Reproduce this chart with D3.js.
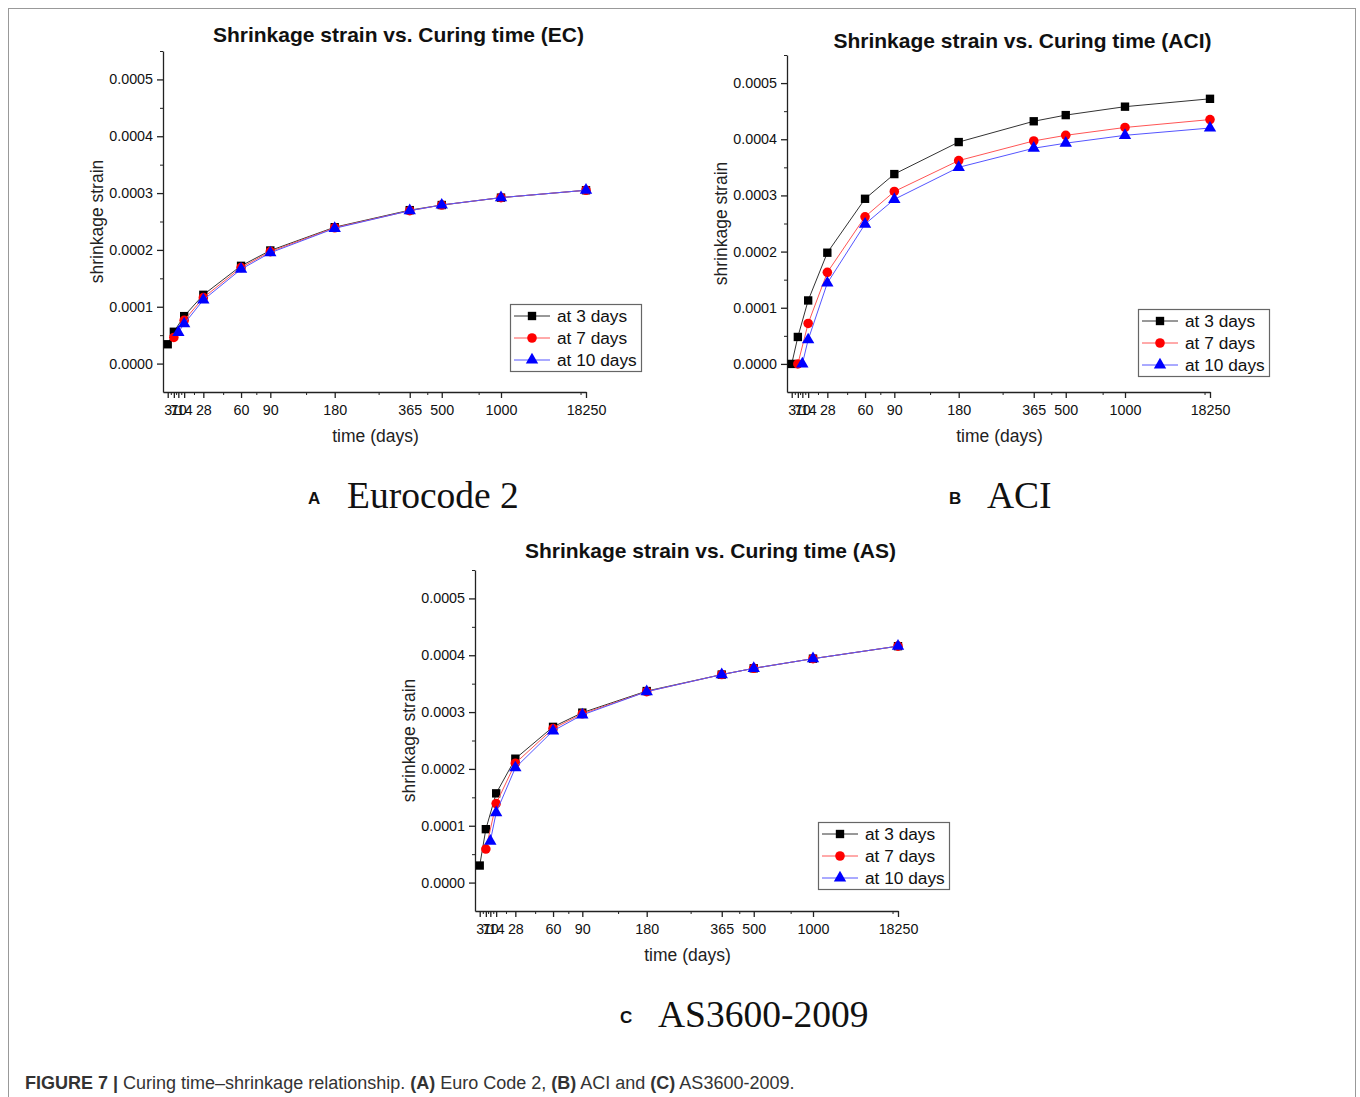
<!DOCTYPE html>
<html>
<head>
<meta charset="utf-8">
<script src="https://cdn.jsdelivr.net/npm/d3@7"></script>
<style>
  body { margin: 0; background: #fff; }
  svg { display: block; }
</style>
</head>
<body>
<script>
// x values (days) used on every panel
var dayTicks = [3, 7, 10, 14, 28, 60, 90, 180, 365, 500, 1000, 18250];
var days3 = [3, 7, 14, 28, 60, 90, 180, 365, 500, 1000, 18250];
var days7 = [7, 14, 28, 60, 90, 180, 365, 500, 1000, 18250];
var days10 = [10, 14, 28, 60, 90, 180, 365, 500, 1000, 18250];
var yTicks = [0, 0.0001, 0.0002, 0.0003, 0.0004, 0.0005];
var seriesNames = ["at 3 days", "at 7 days", "at 10 days"];

// Eurocode 2
var ec3 = [0.000034, 0.000056, 0.0000835, 0.000121, 0.000172, 0.000199, 0.000240, 0.000270, 0.000279, 0.000292, 0.000305];
var ec7 = [0.000046, 0.000076, 0.000116, 0.000169, 0.000197, 0.000239, 0.000269, 0.000279, 0.000292, 0.000305];
var ec10 = [0.000055, 0.000070, 0.000112, 0.000166, 0.000195, 0.000238, 0.000269, 0.000279, 0.000292, 0.000305];

// ACI
var aci3 = [0, 0.000048, 0.000113, 0.000198, 0.000294, 0.000338, 0.000395, 0.000432, 0.000443, 0.000458, 0.000472];
var aci7 = [0, 0.000072, 0.000163, 0.000262, 0.000307, 0.000362, 0.000397, 0.000407, 0.000421, 0.000435];
var aci10 = [0, 0.000043, 0.000144, 0.000249, 0.000293, 0.000350, 0.000384, 0.000393, 0.000407, 0.000420];

// AS3600-2009
var as3 = [0.000030, 0.000094, 0.000157, 0.000218, 0.000274, 0.000299, 0.000337, 0.000366, 0.000377, 0.000394, 0.000416];
var as7 = [0.000059, 0.000139, 0.000210, 0.000271, 0.000297, 0.000336, 0.000366, 0.000377, 0.000394, 0.000416];
var as10 = [0.000073, 0.000123, 0.000202, 0.000267, 0.000295, 0.000336, 0.000366, 0.000377, 0.000394, 0.000416];

var w = 1360;
var h = 1097;
var font = "'Liberation Sans', Arial, sans-serif";
var colors = ["#000000", "#ff0000", "#0000ff"];
var lineColors = ["#333333", "#ff5555", "#5555ff"];
var symbols = [d3.symbolSquare, d3.symbolCircle, d3.symbolTriangle];
var symSize = [70, 72, 66];

// the x axis is an offset reciprocal scale: x / (x + offset)
var offset = 270;
function tf(d) { return d / (d + offset); }

var svg = d3.select("body").append("svg").attr("width", w).attr("height", h);

svg.append("rect")
    .attr("x", 8.5).attr("y", 8.5)
    .attr("width", 1347).attr("height", 1120)
    .attr("fill", "none").attr("stroke", "#999").attr("stroke-width", 1);

var panels = [
    { title: "Shrinkage strain vs. Curing time (EC)", left: 163, top: 51, width: 423, height: 341, titleY: -9,
      values: [ec3, ec7, ec10], legend: [510, 304] },
    { title: "Shrinkage strain vs. Curing time (ACI)", left: 787, top: 55, width: 423, height: 337, titleY: -7,
      values: [aci3, aci7, aci10], legend: [1138, 309] },
    { title: "Shrinkage strain vs. Curing time (AS)", left: 475, top: 570, width: 423, height: 341, titleY: -12,
      values: [as3, as7, as10], legend: [818, 822] }
];
var seriesDays = [days3, days7, days10];

panels.forEach(function (p) {
    var g = svg.append("g").attr("transform", "translate(" + p.left + "," + p.top + ")");

    var xLin = d3.scaleLinear().domain([tf(0), tf(18250)]).range([0, p.width]);
    var x = function (d) { return xLin(tf(d)); };
    var y = d3.scaleLinear().domain([-0.00005, 0.00055]).range([p.height, 0]);

    // minor ticks at value midpoints
    var xMinor = [];
    for (var i = 0; i < dayTicks.length - 1; i++) xMinor.push(tf((dayTicks[i] + dayTicks[i + 1]) / 2));
    var yMinor = yTicks.map(function (d) { return d + 0.00005; });

    g.append("g").attr("transform", "translate(0," + p.height + ")")
        .call(d3.axisBottom(xLin).tickValues(xMinor).tickSize(3).tickFormat(""))
        .call(function (s) { s.select(".domain").remove(); s.selectAll("line").attr("stroke", "#222"); });
    g.append("g")
        .call(d3.axisLeft(y).tickValues(yMinor).tickSize(3).tickFormat(""))
        .call(function (s) { s.select(".domain").remove(); s.selectAll("line").attr("stroke", "#222"); });

    var xAxis = g.append("g").attr("transform", "translate(0," + p.height + ")")
        .call(d3.axisBottom(xLin)
            .tickValues(dayTicks.map(tf))
            .tickSize(6).tickSizeOuter(0).tickPadding(7)
            .tickFormat(function (v, i) { return dayTicks[i]; }));
    var yAxis = g.append("g")
        .call(d3.axisLeft(y).tickValues(yTicks).tickSize(6).tickSizeOuter(0).tickPadding(4)
            .tickFormat(d3.format(".4f")));

    [xAxis, yAxis].forEach(function (a) {
        a.selectAll("path, line").attr("stroke", "#222").attr("stroke-width", 1.3);
        a.selectAll("text").attr("font-family", font).attr("font-size", 14.3).attr("fill", "#111");
    });

    // series
    p.values.forEach(function (vals, k) {
        var pts = vals.map(function (v, i) { return [seriesDays[k][i], v]; });
        g.append("path")
            .datum(pts)
            .attr("fill", "none")
            .attr("stroke", lineColors[k])
            .attr("stroke-width", 1)
            .attr("d", d3.line().x(function (d) { return x(d[0]); }).y(function (d) { return y(d[1]); }));
        g.selectAll(".m" + k)
            .data(pts)
            .enter()
            .append("path")
            .attr("class", "m" + k)
            .attr("transform", function (d) { return "translate(" + x(d[0]) + "," + y(d[1]) + ")"; })
            .attr("d", d3.symbol().type(symbols[k]).size(symSize[k]))
            .attr("fill", colors[k]);
    });

    // title and axis labels
    g.append("text")
        .attr("x", p.width / 2 + 24).attr("y", p.titleY)
        .attr("text-anchor", "middle")
        .attr("font-family", font).attr("font-weight", "bold").attr("font-size", 21)
        .attr("fill", "#111")
        .text(p.title);
    g.append("text")
        .attr("x", p.width / 2 + 1).attr("y", p.height + 50)
        .attr("text-anchor", "middle")
        .attr("font-family", font).attr("font-size", 17.5).attr("fill", "#222")
        .text("time (days)");
    g.append("text")
        .attr("transform", "translate(-60," + (p.height / 2) + ") rotate(-90)")
        .attr("text-anchor", "middle")
        .attr("font-family", font).attr("font-size", 17.5).attr("fill", "#222")
        .text("shrinkage strain");

    // legend
    var lg = svg.append("g").attr("transform", "translate(" + p.legend[0] + "," + p.legend[1] + ")");
    lg.append("rect").attr("x", 0.5).attr("y", 0.5).attr("width", 131).attr("height", 67)
        .attr("fill", "#fff").attr("stroke", "#666").attr("stroke-width", 1.2);
    seriesNames.forEach(function (name, k) {
        var ly = 12 + k * 22;
        lg.append("line").attr("x1", 4).attr("x2", 40).attr("y1", ly).attr("y2", ly)
            .attr("stroke", lineColors[k]).attr("stroke-width", 1);
        lg.append("path").attr("transform", "translate(22," + ly + ")")
            .attr("d", d3.symbol().type(symbols[k]).size(symSize[k]))
            .attr("fill", colors[k]);
        lg.append("text").attr("x", 47).attr("y", ly + 6)
            .attr("font-family", font).attr("font-size", 17.3).attr("fill", "#111")
            .text(name);
    });
});

// panel tags
var tags = [["A", "Eurocode 2", 308, 347, 508], ["B", "ACI", 949, 987, 508], ["C", "AS3600-2009", 620, 658, 1027]];
tags.forEach(function (t) {
    svg.append("text").attr("x", t[2]).attr("y", t[4] - 4)
        .attr("font-family", font).attr("font-weight", "bold").attr("font-size", 17).attr("fill", "#111")
        .text(t[0]);
    svg.append("text").attr("x", t[3]).attr("y", t[4])
        .attr("font-family", "'Liberation Serif', 'Times New Roman', serif").attr("font-size", 37.5).attr("fill", "#111")
        .text(t[1]);
});

// caption
var cap = svg.append("text").attr("x", 25).attr("y", 1089)
    .attr("font-family", "'Liberation Sans Narrow', 'Arial Narrow', " + font)
    .attr("font-size", 18).attr("fill", "#333");
[["FIGURE 7 | ", true], ["Curing time\u2013shrinkage relationship. ", false], ["(A)", true], [" Euro Code 2, ", false],
 ["(B)", true], [" ACI and ", false], ["(C)", true], [" AS3600-2009.", false]].forEach(function (s) {
    cap.append("tspan").attr("font-weight", s[1] ? "bold" : "normal").text(s[0]);
});
</script>
</body>
</html>
